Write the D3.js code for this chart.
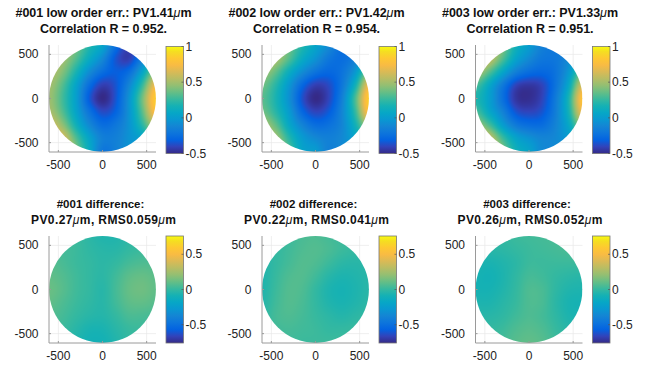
<!DOCTYPE html>
<html><head><meta charset="utf-8">
<script src="https://cdn.jsdelivr.net/npm/d3@7"></script>
<style>
body{margin:0;background:#fff}
svg{display:block}
text{font-family:"Liberation Sans",Arial,Helvetica,sans-serif}
</style>
</head><body>
<svg id="chart" width="651" height="369"></svg>
<script>
// ---------------- data ----------------
const ids = ["#001", "#002", "#003"];
const pvLow = ["1.41", "1.42", "1.33"];
const corrR = ["0.952", "0.954", "0.951"];
const pvDiff = ["0.27", "0.22", "0.26"];
const rmsDiff = ["0.059", "0.041", "0.052"];
const gridCoords = [-600, -450, -300, -150, 0, 150, 300, 450, 600]; // x (cols) and y (rows, top->bottom reversed)
const axisTicks = [-500, 0, 500];
const lowTicks = [-0.5, 0, 0.5, 1];
const diffTicks = [-0.5, 0, 0.5];
const lowLimits = [-0.5, 1];
const diffLimits = [-0.76, 0.76];
const apertureRadius = 605;

// rows: y = 600 ... -600 ; cols: x = -600 ... 600  (values in µm)
const low001 = [
  [0.65, 0.55, 0.40, 0.20, 0.05, -0.25, -0.42, -0.25, 0.00],
  [0.60, 0.50, 0.32, 0.10, -0.10, -0.35, -0.42, -0.15, 0.15],
  [0.55, 0.42, 0.18, -0.08, -0.25, -0.32, -0.25, 0.05, 0.45],
  [0.50, 0.32, 0.05, -0.25, -0.42, -0.35, -0.12, 0.25, 0.72],
  [0.48, 0.28, 0.02, -0.33, -0.50, -0.35, -0.05, 0.38, 0.85],
  [0.52, 0.32, 0.05, -0.22, -0.38, -0.30, -0.05, 0.33, 0.78],
  [0.65, 0.45, 0.15, -0.10, -0.25, -0.20, -0.05, 0.22, 0.55],
  [0.78, 0.65, 0.32, 0.05, -0.15, -0.15, -0.05, 0.05, 0.30],
  [0.85, 0.75, 0.42, 0.10, -0.20, -0.15, -0.05, 0.00, 0.20]
];
const low002 = [
  [0.65, 0.55, 0.38, 0.20, 0.05, -0.10, -0.25, -0.20, 0.00],
  [0.62, 0.52, 0.32, 0.10, -0.05, -0.20, -0.25, -0.15, 0.10],
  [0.50, 0.35, 0.12, -0.08, -0.22, -0.28, -0.22, -0.02, 0.40],
  [0.38, 0.22, -0.02, -0.28, -0.42, -0.38, -0.20, 0.15, 0.70],
  [0.33, 0.18, -0.06, -0.36, -0.50, -0.40, -0.15, 0.30, 0.85],
  [0.38, 0.22, 0.00, -0.28, -0.40, -0.33, -0.12, 0.25, 0.78],
  [0.52, 0.35, 0.08, -0.13, -0.25, -0.23, -0.12, 0.15, 0.50],
  [0.60, 0.50, 0.22, 0.00, -0.10, -0.15, -0.10, 0.05, 0.25],
  [0.68, 0.58, 0.32, 0.05, 0.00, -0.15, -0.10, 0.00, 0.20]
];
const low003 = [
  [0.75, 0.65, 0.42, 0.15, 0.00, -0.15, -0.20, -0.15, 0.00],
  [0.75, 0.60, 0.32, 0.05, -0.10, -0.20, -0.20, -0.10, 0.05],
  [0.55, 0.33, 0.07, -0.15, -0.25, -0.28, -0.22, -0.02, 0.35],
  [0.30, 0.08, -0.18, -0.40, -0.45, -0.40, -0.22, 0.08, 0.62],
  [0.20, 0.03, -0.23, -0.45, -0.48, -0.40, -0.18, 0.18, 0.80],
  [0.30, 0.08, -0.13, -0.35, -0.40, -0.35, -0.16, 0.16, 0.70],
  [0.50, 0.30, 0.02, -0.18, -0.25, -0.25, -0.13, 0.08, 0.45],
  [0.72, 0.60, 0.28, 0.05, -0.05, -0.12, -0.10, 0.00, 0.20],
  [0.80, 0.70, 0.42, 0.15, 0.05, -0.10, -0.10, -0.05, 0.10]
];
const diff001 = [
  [0.05, 0.04, 0.02, -0.02, -0.05, -0.05, -0.02, 0.00, 0.02],
  [0.06, 0.04, 0.02, -0.01, -0.03, -0.03, 0.00, 0.02, 0.03],
  [0.08, 0.05, 0.02, 0.00, -0.02, 0.00, 0.04, 0.06, 0.06],
  [0.10, 0.07, 0.03, 0.00, -0.02, 0.03, 0.09, 0.11, 0.09],
  [0.12, 0.08, 0.03, 0.00, -0.03, 0.04, 0.11, 0.13, 0.10],
  [0.10, 0.06, 0.02, -0.01, -0.03, 0.03, 0.09, 0.10, 0.08],
  [0.07, 0.04, 0.00, -0.03, -0.04, 0.00, 0.05, 0.05, 0.04],
  [0.05, 0.02, -0.03, -0.07, -0.07, -0.03, 0.01, 0.02, 0.02],
  [0.03, 0.00, -0.05, -0.09, -0.09, -0.05, 0.00, 0.01, 0.01]
];
const diff002 = [
  [0.00, 0.00, 0.02, 0.05, 0.06, 0.04, 0.02, 0.00, 0.00],
  [-0.02, 0.00, 0.03, 0.06, 0.07, 0.05, 0.02, 0.00, -0.01],
  [-0.04, 0.00, 0.04, 0.07, 0.06, 0.02, -0.02, -0.03, -0.02],
  [-0.05, 0.01, 0.06, 0.07, 0.03, -0.03, -0.06, -0.05, -0.03],
  [-0.05, 0.02, 0.07, 0.06, 0.00, -0.06, -0.08, -0.06, -0.03],
  [-0.04, 0.03, 0.07, 0.05, 0.00, -0.05, -0.07, -0.05, -0.02],
  [-0.02, 0.04, 0.06, 0.04, 0.01, -0.02, -0.04, -0.02, 0.00],
  [0.00, 0.03, 0.04, 0.03, 0.02, 0.00, 0.00, 0.01, 0.02],
  [0.00, 0.02, 0.03, 0.02, 0.02, 0.02, 0.02, 0.02, 0.03]
];
const diff003 = [
  [0.00, 0.00, 0.00, 0.02, 0.03, 0.04, 0.05, 0.06, 0.06],
  [-0.03, -0.03, -0.02, 0.00, 0.02, 0.03, 0.04, 0.05, 0.05],
  [-0.06, -0.07, -0.05, -0.02, 0.02, 0.02, 0.02, 0.02, 0.02],
  [-0.08, -0.09, -0.06, -0.01, 0.04, 0.03, 0.00, -0.02, -0.03],
  [-0.08, -0.08, -0.05, 0.00, 0.06, 0.05, -0.01, -0.05, -0.06],
  [-0.06, -0.06, -0.03, 0.01, 0.06, 0.05, -0.02, -0.07, -0.08],
  [-0.03, -0.03, -0.01, 0.03, 0.06, 0.04, -0.01, -0.06, -0.07],
  [0.00, 0.00, 0.02, 0.06, 0.08, 0.06, 0.01, -0.03, -0.04],
  [0.02, 0.02, 0.04, 0.08, 0.10, 0.08, 0.03, 0.00, -0.01]
];

// parula colormap anchors (MATLAB), position 0..1
const parulaColors = ["#352a87","#3243ba","#0363e1","#0d75dc","#1485d4","#0998d1","#06a7c6","#15b1b4",
  "#38b99e","#65be86","#92bf73","#b7bd64","#d9ba56","#f8bb44","#fec832","#f5de21","#f9fb0e"];
const parulaPos = [0,4,8,12,16,20,24,28,32,36,40,44,48,52,56,60,63].map(d => d / 63);

// ---------------- layout ----------------
const svg = d3.select("#chart");
const axLeft = [49, 262, 475.5];
const axTop = [45, 236];
const axSize = 107;
const cbGap = 10, cbW = 17.5;
// title styling per row/line: [font-size, textLength or null]
const titleStyle = [[[12.5, 176], [12.5, 127]], [[11.5, null], [12, 145]]];

const panels = [];
for (let c = 0; c < 3; c++) {
  panels.push({row: 0, col: c, grid: [low001, low002, low003][c], limits: lowLimits, ticks: lowTicks,
    title: [[{t: ids[c] + " low order err.: PV" + pvLow[c]}, {t: "\u03bc", i: true}, {t: "m"}],
            [{t: "Correlation R = " + corrR[c] + "."}]]});
}
for (let c = 0; c < 3; c++) {
  panels.push({row: 1, col: c, grid: [diff001, diff002, diff003][c], limits: diffLimits, ticks: diffTicks,
    title: [[{t: ids[c] + " difference:"}],
            [{t: "PV" + pvDiff[c]}, {t: "\u03bc", i: true}, {t: "m, RMS" + rmsDiff[c]}, {t: "\u03bc", i: true}, {t: "m"}]]});
}

function cubic(p0, p1, p2, p3, t) {
  return p1 + 0.5 * t * (p2 - p0 + t * (2 * p0 - 5 * p1 + 4 * p2 - p3 + t * (3 * (p1 - p2) + p3 - p0)));
}
function sampleGrid(grid, x, y) {
  const n = gridCoords.length;
  const step = gridCoords[1] - gridCoords[0];
  let gx = (x - gridCoords[0]) / step;
  let gy = (gridCoords[n - 1] - y) / step;
  gx = Math.max(0, Math.min(n - 1, gx));
  gy = Math.max(0, Math.min(n - 1, gy));
  const ix = Math.min(n - 2, Math.floor(gx)), iy = Math.min(n - 2, Math.floor(gy));
  const fx = gx - ix, fy = gy - iy;
  const cl = k => Math.max(0, Math.min(n - 1, k));
  const rows = [];
  for (let m = -1; m <= 2; m++) {
    const r = grid[cl(iy + m)];
    rows.push(cubic(r[cl(ix - 1)], r[ix], r[ix + 1], r[cl(ix + 2)], fx));
  }
  return cubic(rows[0], rows[1], rows[2], rows[3], fy);
}

const defs = svg.append("defs");

panels.forEach((p, k) => {
  const left = axLeft[p.col], top = axTop[p.row];
  const x = d3.scaleLinear().domain([-606, 606]).range([left, left + axSize]);
  const y = d3.scaleLinear().domain([-606, 606]).range([top + axSize, top]);
  const color = d3.scaleLinear()
    .domain(parulaPos.map(t => p.limits[0] + t * (p.limits[1] - p.limits[0])))
    .range(parulaColors).clamp(true);
  const g = svg.append("g");

  // grid lines
  g.selectAll(".gx").data(axisTicks).join("line")
    .attr("x1", d => x(d)).attr("x2", d => x(d)).attr("y1", top).attr("y2", top + axSize)
    .attr("stroke", "#e6e6e6").attr("stroke-width", 0.7);
  g.selectAll(".gy").data(axisTicks).join("line")
    .attr("y1", d => y(d)).attr("y2", d => y(d)).attr("x1", left).attr("x2", left + axSize)
    .attr("stroke", "#e6e6e6").attr("stroke-width", 0.7);

  // surface image
  const W = 2 * axSize;
  const cv = document.createElement("canvas");
  cv.width = W; cv.height = W;
  const ctx = cv.getContext("2d");
  const img = ctx.createImageData(W, W);
  for (let j = 0; j < W; j++) {
    for (let i = 0; i < W; i++) {
      const dx = x.invert(left + (i + 0.5) / 2);
      const dy = y.invert(top + (j + 0.5) / 2);
      const c = d3.rgb(color(sampleGrid(p.grid, dx, dy)));
      const o = 4 * (j * W + i);
      img.data[o] = c.r; img.data[o + 1] = c.g; img.data[o + 2] = c.b; img.data[o + 3] = 255;
    }
  }
  ctx.putImageData(img, 0, 0);
  const clipId = "clip" + k;
  defs.append("clipPath").attr("id", clipId).append("circle")
    .attr("cx", x(0)).attr("cy", y(0)).attr("r", x(apertureRadius) - x(0));
  g.append("image").attr("href", cv.toDataURL())
    .attr("x", left).attr("y", top).attr("width", axSize).attr("height", axSize)
    .attr("preserveAspectRatio", "none").attr("clip-path", `url(#${clipId})`);

  // axes lines
  g.append("line").attr("x1", left).attr("x2", left).attr("y1", top).attr("y2", top + axSize)
    .attr("stroke", "#9a9a9a").attr("stroke-width", 1);
  g.append("line").attr("x1", left).attr("x2", left + axSize).attr("y1", top + axSize).attr("y2", top + axSize)
    .attr("stroke", "#9a9a9a").attr("stroke-width", 1);
  g.selectAll(".tx").data(axisTicks).join("line")
    .attr("x1", d => x(d)).attr("x2", d => x(d)).attr("y1", top + axSize).attr("y2", top + axSize - 2)
    .attr("stroke", "#9a9a9a");
  g.selectAll(".ty").data(axisTicks).join("line")
    .attr("y1", d => y(d)).attr("y2", d => y(d)).attr("x1", left).attr("x2", left + 2)
    .attr("stroke", "#9a9a9a");

  // tick labels
  g.selectAll(".lx").data(axisTicks).join("text")
    .attr("x", d => x(d)).attr("y", top + axSize + 17).attr("text-anchor", "middle")
    .attr("font-size", 12).attr("fill", "#222").text(d => d);
  g.selectAll(".ly").data(axisTicks).join("text")
    .attr("x", left - 10.5).attr("y", d => y(d) + 4).attr("text-anchor", "end")
    .attr("font-size", 12).attr("fill", "#222").text(d => d);

  // colorbar
  const cbx = left + axSize + cbGap;
  const off = p.row === 0 ? 1.5 : 0;
  const cy = d3.scaleLinear().domain(p.limits).range([top + axSize + off, top + off]);
  const gradId = "grad" + k;
  const grad = defs.append("linearGradient").attr("id", gradId)
    .attr("x1", 0).attr("y1", 1).attr("x2", 0).attr("y2", 0);
  grad.selectAll("stop").data(parulaPos).join("stop")
    .attr("offset", d => d).attr("stop-color", (d, i) => parulaColors[i]);
  g.append("rect").attr("x", cbx).attr("y", top + off).attr("width", cbW).attr("height", axSize)
    .attr("fill", `url(#${gradId})`).attr("stroke", "#777").attr("stroke-width", 0.8);
  g.selectAll(".ct").data(p.ticks).join("line")
    .attr("x1", cbx + cbW - 2).attr("x2", cbx + cbW).attr("y1", d => cy(d)).attr("y2", d => cy(d))
    .attr("stroke", "#555").attr("stroke-width", 0.7);
  g.selectAll(".cl").data(p.ticks).join("text")
    .attr("x", cbx + cbW + 2).attr("y", d => cy(d) + 4)
    .attr("font-size", 12).attr("fill", "#222").text(d => d);

  // title
  const tcx = x(0) + 1;
  const tY = p.row === 0 ? [17, 33] : [208, 224];
  p.title.forEach((line, li) => {
    const st = titleStyle[p.row][li];
    const t = g.append("text").attr("x", tcx - (p.row === 1 && li === 0 ? 3 : 0)).attr("y", tY[li])
      .attr("text-anchor", "middle")
      .attr("font-size", st[0]).attr("font-weight", "bold").attr("fill", "#111");
    if (st[1]) t.attr("textLength", st[1]).attr("lengthAdjust", "spacing");
    line.forEach(s => {
      const ts = t.append("tspan").text(s.t);
      if (s.i) ts.attr("font-style", "italic").attr("font-weight", "normal");
    });
  });
});
</script>
</body></html>
